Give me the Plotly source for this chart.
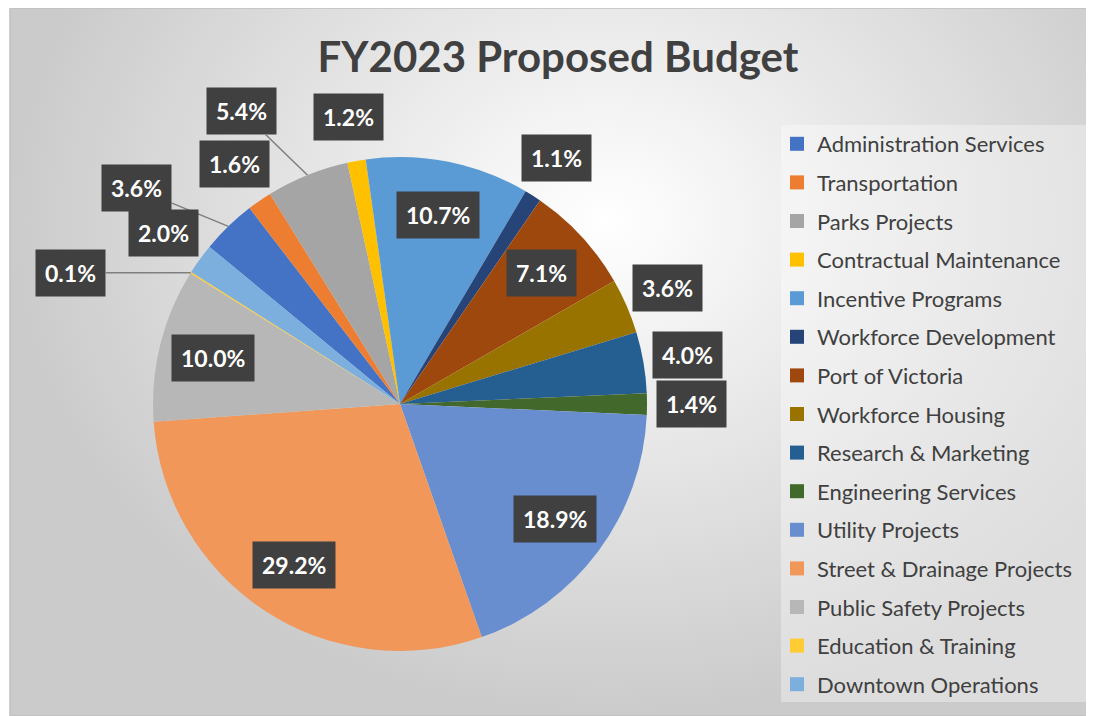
import math
import plotly.graph_objects as go

categories = [
    "Administration Services", "Transportation", "Parks Projects",
    "Contractual Maintenance", "Incentive Programs", "Workforce Development",
    "Port of Victoria", "Workforce Housing", "Research & Marketing",
    "Engineering Services", "Utility Projects", "Street & Drainage Projects",
    "Public Safety Projects", "Education & Training", "Downtown Operations",
]
shares = [3.6, 1.6, 5.4, 1.2, 10.7, 1.1, 7.1, 3.6, 4.0, 1.4, 18.9, 29.2, 10.0, 0.1, 2.0]
title = "FY2023 Proposed Budget"

colors = [
    "#4472C4", "#ED7D31", "#A5A5A5", "#FFC000", "#5B9BD5", "#264478",
    "#9E480E", "#997300", "#255E91", "#43682B", "#698ED0", "#F1975A",
    "#B7B7B7", "#FFCD33", "#7CAFDD",
]

# page body has an 8px margin, so the figure is a little smaller than the window
OFF = 8
W, H = 1094 - OFF, 716 - OFF
CX, CY, R = 400, 404, 247      # pie centre and radius, window pixels
START = -50.5                  # first slice angle, degrees clockwise from 12 o'clock

# labels drawn outside with a leader line: box offset (px) from the slice edge
leaders = {
    "Administration Services": (-92, -38),
    "Parks Projects": (-66, -64),
    "Education & Training": (-120, 0),
}


def px(x):
    return (x - OFF) / W


def py(y):
    return 1 - (y - OFF) / H


fig = go.Figure()

# chart area background (radial grey gradient, lightest near the title)
fig.add_trace(go.Scatter(
    x=[0, 1.1, 1.1, 0, 0], y=[0, 0, 1.4, 1.4, 0], fill="toself", mode="none",
    fillgradient=dict(type="radial", colorscale=[[0, "#ffffff"], [1, "#cbcbcb"]]),
    hoverinfo="skip", showlegend=False,
))

fig.add_trace(go.Pie(
    labels=categories, values=shares, sort=False, direction="clockwise",
    rotation=START, textinfo="none", showlegend=False,
    marker=dict(colors=colors, line=dict(width=0)),
    domain=dict(x=[px(CX - R), px(CX + R)], y=[py(CY + R), py(CY - R)]),
))

# legend entries, one group each so the gap between them can be set
for name, col in zip(categories, colors):
    fig.add_trace(go.Scatter(
        x=[None], y=[None], mode="markers", name=name, legendgroup=name,
        marker=dict(symbol="square", size=14, color=col),
    ))

# data labels
total = sum(shares)
acc = 0
annotations = []
for name, v in zip(categories, shares):
    mid = math.radians(START + (acc + v / 2) / total * 360)
    acc += v
    common = dict(
        text=f"{v / total * 100:.1f}%", xref="paper", yref="paper",
        xanchor="center", yanchor="middle", bgcolor="#404040", borderpad=9,
        font=dict(family="Lato", size=23, color="white", weight="bold"),
    )
    if name in leaders:
        ex, ey = CX + R * math.sin(mid), CY - R * math.cos(mid)
        ax, ay = leaders[name]
        annotations.append(dict(
            x=px(ex), y=py(ey), ax=ax, ay=ay, showarrow=True, arrowhead=0,
            arrowwidth=1.5, arrowcolor="#7f7f7f", standoff=0, **common))
    else:
        k = 0.78 if v >= 7 else 1.18
        bx, by = CX + k * R * math.sin(mid), CY - k * R * math.cos(mid)
        annotations.append(dict(x=px(bx), y=py(by), showarrow=False, **common))

fig.update_layout(
    width=W, height=H, margin=dict(l=0, r=0, t=0, b=0),
    paper_bgcolor="white", plot_bgcolor="rgba(0,0,0,0)",
    title=dict(text=title, x=px(558), y=py(57), xanchor="center", yanchor="middle",
               font=dict(family="Lato", size=42, color="#404040", weight="bold")),
    xaxis=dict(domain=[px(10), 1], range=[0, 1], visible=False, fixedrange=True),
    yaxis=dict(domain=[0, 1], range=[0, 1], visible=False, fixedrange=True),
    legend=dict(x=px(777), y=py(123), xanchor="left", yanchor="top",
                bgcolor="rgba(0,0,0,0)", tracegroupgap=7,
                font=dict(family="Lato", size=22, color="#404040")),
    shapes=[
        dict(type="rect", xref="paper", yref="paper", x0=px(781), x1=px(1090),
             y0=py(702), y1=py(125), fillcolor="rgba(255,255,255,0.35)",
             line=dict(width=0), layer="above"),
        dict(type="rect", xref="paper", yref="paper", x0=px(10), x1=1,
             y0=0, y1=1, line=dict(color="#c0c0c0", width=1.5), layer="above"),
    ],
    annotations=annotations,
    hovermode=False,
)

fig.write_html("out.html")
